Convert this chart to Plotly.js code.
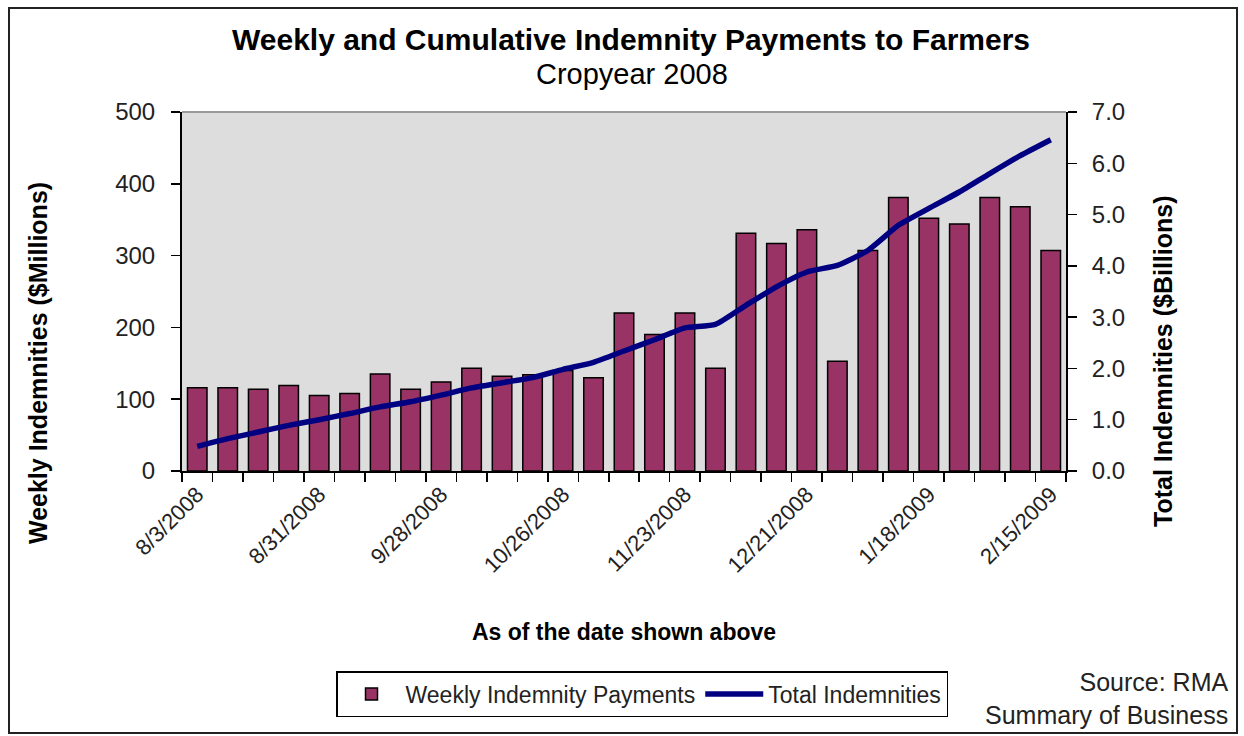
<!DOCTYPE html>
<html>
<head>
<meta charset="utf-8">
<script src="https://cdn.plot.ly/plotly-3.0.1.min.js"></script>
<style>
  html, body { margin: 0; padding: 0; background: #ffffff; }
  #chart { width: 1244px; height: 736px; }
</style>
</head>
<body>
<div id="chart"></div>
<script>
// ---- Data ----
const weeks = [
  "8/3/2008", "8/10/2008", "8/17/2008", "8/24/2008", "8/31/2008",
  "9/7/2008", "9/14/2008", "9/21/2008", "9/28/2008", "10/5/2008",
  "10/12/2008", "10/19/2008", "10/26/2008", "11/2/2008", "11/9/2008",
  "11/16/2008", "11/23/2008", "11/30/2008", "12/7/2008", "12/14/2008",
  "12/21/2008", "12/28/2008", "1/4/2009", "1/11/2009", "1/18/2009",
  "1/25/2009", "2/1/2009", "2/8/2009", "2/15/2009"
];
// Weekly indemnity payments, $ millions
const weeklyPayments = [
  116, 116, 114, 119, 105, 108, 135, 114, 124, 143,
  132, 134, 140, 130, 220, 190, 220, 143, 331, 317,
  336, 153, 307, 381, 352, 344, 381, 368, 307
];
// Cumulative (total) indemnities, $ billions
const totalIndemnities = [
  0.48, 0.63, 0.76, 0.89, 1.00, 1.12, 1.25, 1.35, 1.48, 1.62,
  1.72, 1.82, 1.98, 2.12, 2.34, 2.56, 2.79, 2.86, 3.23, 3.59,
  3.88, 4.01, 4.30, 4.79, 5.12, 5.44, 5.80, 6.15, 6.46
];
// Tick labels shown on the category axis
const shownTickLabels = [
  "8/3/2008", "8/31/2008", "9/28/2008", "10/26/2008",
  "11/23/2008", "12/21/2008", "1/18/2009", "2/15/2009"
];
const leftTicks = [0, 100, 200, 300, 400, 500];
const rightTicks = [0, 1, 2, 3, 4, 5, 6, 7];

const titleText = "Weekly and Cumulative Indemnity Payments to Farmers";
const subtitleText = "Cropyear 2008";
const xTitle = "As of the date shown above";
const yTitle = "Weekly Indemnities ($Millions)";
const y2Title = "Total Indemnities ($Billions)";
const seriesNames = ["Weekly Indemnity Payments", "Total Indemnities"];
const sourceLines = ["Source: RMA", "Summary of Business"];

// ---- Build ----
const FONT = "Arial, 'Liberation Sans', sans-serif";
const tickText = weeks.map(w => shownTickLabels.includes(w) ? w : "");

const traces = [
  {
    type: "bar",
    name: seriesNames[0],
    x: weeks,
    y: weeklyPayments,
    yaxis: "y",
    marker: { color: "#993366", line: { color: "#000000", width: 1.5 } },
    hoverinfo: "x+y"
  },
  {
    type: "scatter",
    mode: "lines",
    name: seriesNames[1],
    x: weeks,
    y: totalIndemnities,
    yaxis: "y2",
    line: { color: "#000080", width: 5.5, shape: "spline", smoothing: 0.5 },
    hoverinfo: "x+y"
  }
];

const W = 1244, H = 736;
const plotL = 182, plotR = 1066, plotT = 112, plotB = 471;
const pw = plotR - plotL, ph = plotB - plotT;
const px = v => (v - plotL) / pw;       // pixel x -> paper x
const py = v => (plotB - v) / ph;       // pixel y -> paper y

const layout = {
  width: W,
  height: H,
  margin: { l: plotL, r: W - plotR, t: plotT, b: H - plotB, pad: 0 },
  paper_bgcolor: "#ffffff",
  plot_bgcolor: "#DDDDDD",
  font: { family: FONT, color: "#000000", size: 22 },
  showlegend: true,
  bargap: 0.36,
  xaxis: {
    type: "category",
    tickmode: "array",
    tickvals: weeks,
    ticktext: tickText,
    tickson: "boundaries",
    ticks: "outside",
    ticklen: 9,
    tickwidth: 1.5,
    tickcolor: "#000000",
    tickangle: -45,
    tickfont: { size: 22, family: FONT, color: "#222222" },
    showline: true,
    linecolor: "#000000",
    linewidth: 2,
    showgrid: false,
    zeroline: false,
    automargin: false,
    title: { text: "<b>" + xTitle + "</b>", font: { size: 23, family: FONT }, standoff: 47 }
  },
  yaxis: {
    range: [0, 500],
    tickmode: "array",
    tickvals: leftTicks,
    ticks: "outside",
    ticklen: 9,
    tickwidth: 1.5,
    tickcolor: "#000000",
    ticklabelstandoff: 11,
    tickfont: { size: 24, family: FONT, color: "#222222" },
    showline: true,
    linecolor: "#000000",
    linewidth: 2,
    showgrid: false,
    zeroline: false,
    automargin: false
  },
  yaxis2: {
    overlaying: "y",
    side: "right",
    range: [0, 7],
    tickmode: "array",
    tickvals: rightTicks,
    tickformat: ".1f",
    ticks: "outside",
    ticklen: 9,
    tickwidth: 1.5,
    tickcolor: "#000000",
    ticklabelstandoff: 10,
    tickfont: { size: 24, family: FONT, color: "#222222" },
    showline: true,
    linecolor: "#000000",
    linewidth: 2,
    showgrid: false,
    zeroline: false,
    automargin: false
  },
  legend: {
    orientation: "h",
    x: px(642),
    xanchor: "center",
    y: py(671),
    yanchor: "top",
    bgcolor: "#ffffff",
    bordercolor: "#000000",
    borderwidth: 1.5,
    font: { size: 23, family: FONT, color: "#222222" },
    itemwidth: 58,
    traceorder: "normal"
  },
  annotations: [
    {
      text: "<b>" + titleText + "</b>",
      xref: "paper", yref: "paper",
      x: px(631), y: py(40),
      xanchor: "center", yanchor: "middle",
      showarrow: false,
      font: { size: 30, family: FONT, color: "#000000" }
    },
    {
      text: subtitleText,
      xref: "paper", yref: "paper",
      x: px(632), y: py(74),
      xanchor: "center", yanchor: "middle",
      showarrow: false,
      font: { size: 29, family: FONT, color: "#000000" }
    },
    {
      text: "<b>" + yTitle + "</b>",
      xref: "paper", yref: "paper",
      x: px(38), y: py(363),
      xanchor: "center", yanchor: "middle",
      textangle: -90,
      showarrow: false,
      font: { size: 25, family: FONT, color: "#000000" }
    },
    {
      text: "<b>" + y2Title + "</b>",
      xref: "paper", yref: "paper",
      x: px(1163), y: py(361),
      xanchor: "center", yanchor: "middle",
      textangle: -90,
      showarrow: false,
      font: { size: 25, family: FONT, color: "#000000" }
    },
    {
      text: sourceLines.join("<br>"),
      xref: "paper", yref: "paper",
      x: px(1230), y: py(698),
      xanchor: "right", yanchor: "middle",
      align: "right",
      showarrow: false,
      font: { size: 25, family: FONT, color: "#222222" }
    }
  ],
  shapes: [
    {
      type: "line", xref: "paper", yref: "paper",
      x0: 0, x1: 1, y0: 1, y1: 1,
      line: { color: "#9a9a9a", width: 2 }
    },
    {
      type: "rect", xref: "paper", yref: "paper",
      x0: px(9), x1: px(1237), y0: py(8), y1: py(733),
      line: { color: "#222222", width: 2 },
      fillcolor: "rgba(0,0,0,0)"
    }
  ]
};

Plotly.newPlot("chart", traces, layout, { displayModeBar: false, staticPlot: true });
</script>
</body>
</html>
